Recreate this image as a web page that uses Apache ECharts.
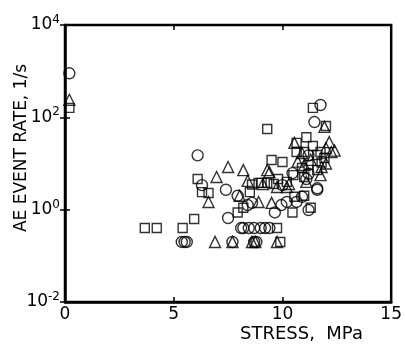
<!DOCTYPE html>
<html>
<head>
<meta charset="utf-8">
<script src="https://cdn.jsdelivr.net/npm/echarts@6.0.0/dist/echarts.min.js"></script>
<style>
  html, body { margin: 0; padding: 0; background: #fff; }
  #chart { width: 405px; height: 346px; }
</style>
</head>
<body>
<div id="chart"></div>
<script>
// stress (MPa) vs AE event rate (1/s)
var xTicks = [0, 5, 10, 15];
var yTickExp = [-2, 0, 2, 4];

var circlePts = [
  [0.2, 900], [6.1, 15], [6.3, 3.4], [7.4, 2.7], [7.94, 2.0], [8.4, 1.26],
  [7.5, 0.66], [11.75, 185], [11.47, 79], [11.6, 2.7], [11.2, 6.0],
  [10.46, 6.2], [11.2, 15], [8.6, 1.4], [9.95, 1.26], [10.2, 1.47],
  [10.9, 1.9], [9.65, 0.87], [11.2, 0.98], [10.65, 1.47], [11.6, 2.9],
  [10.0, 3.4], [11.1, 4.6],
  [8.1, 0.4], [8.2, 0.4], [8.45, 0.4], [8.7, 0.4], [9.0, 0.4], [9.2, 0.4], [9.4, 0.4],
  [5.37, 0.2], [5.5, 0.2], [5.6, 0.2], [7.7, 0.2], [8.7, 0.2], [8.8, 0.2]
];

var squarePts = [
  [0.2, 160], [3.67, 0.4], [4.22, 0.4], [5.41, 0.4], [5.94, 0.63],
  [6.1, 4.6], [6.3, 2.4], [6.6, 2.3], [8.5, 2.4], [8.6, 3.5], [8.9, 3.8],
  [8.2, 1.1], [7.94, 0.87], [11.4, 160], [12.0, 65], [9.3, 56], [11.1, 37],
  [10.65, 28], [11.4, 24], [10.65, 17.7], [11.0, 17.7], [11.75, 17.7],
  [11.6, 15.3], [11.93, 13.2], [9.5, 11.9], [10.0, 10.8], [9.04, 3.8],
  [9.3, 3.8], [10.55, 1.9], [11.0, 2.0], [10.46, 0.87], [11.3, 1.1],
  [9.75, 0.4], [9.9, 0.2], [10.9, 8.0], [11.2, 9.3], [11.6, 7.2],
  [10.5, 5.6], [11.0, 5.1], [9.8, 4.6], [10.2, 4.0], [9.6, 3.6], [11.8, 10.5]
];

var trianglePts = [
  [0.2, 240], [11.93, 62], [12.15, 29], [10.55, 28], [12.0, 21.7],
  [12.25, 17.7], [12.4, 19], [10.9, 16.9], [7.5, 8.4], [8.2, 7.2],
  [9.3, 7.2], [6.97, 5.1], [8.4, 4.2], [6.6, 1.47], [8.03, 2.0],
  [8.9, 1.47], [9.5, 1.4], [9.4, 6.5], [9.75, 3.1], [10.2, 3.1],
  [11.1, 4.0], [11.75, 5.6], [10.7, 11], [11.3, 12], [11.0, 9.3],
  [11.8, 8.4], [12.0, 10], [10.3, 3.6], [9.1, 3.6],
  [6.9, 0.2], [7.7, 0.2], [8.6, 0.2], [8.75, 0.2], [9.75, 0.2]
];

var chart = echarts.init(document.getElementById('chart'));

var hollow = { color: 'rgba(0,0,0,0)', borderColor: '#000', borderWidth: 1.4 };
var fontFam = 'DejaVu Sans';

var option = {
  animation: false,
  backgroundColor: '#fff',
  grid: {
    left: 65, top: 25, right: 13, bottom: 44,
    show: true, borderColor: '#000', borderWidth: 2.5
  },
  xAxis: [
    {
      type: 'value', min: 0, max: 15, interval: 5,
      axisLine: { lineStyle: { color: '#000', width: 2.5 } },
      axisTick: { inside: true, length: 5, lineStyle: { color: '#000', width: 1.5 } },
      splitLine: { show: false },
      axisLabel: {
        color: '#000', fontFamily: fontFam, fontSize: 17, margin: 4,
        formatter: function (v) { return xTicks.indexOf(v) >= 0 ? String(v) : ''; }
      }
    },
    {
      type: 'value', min: 0, max: 15, interval: 5, position: 'top',
      axisLine: { show: false },
      axisTick: { inside: true, length: 5, lineStyle: { color: '#000', width: 1.5 } },
      axisLabel: { show: false }, splitLine: { show: false }
    }
  ],
  yAxis: [
    {
      type: 'log', logBase: 100, min: 0.01, max: 10000,
      axisLine: { lineStyle: { color: '#000', width: 2.5 } },
      axisTick: { inside: true, length: 5, lineStyle: { color: '#000', width: 1.5 } },
      splitLine: { show: false },
      axisLabel: {
        margin: 5,
        formatter: function (v) {
          var e = Math.round(Math.log10(v));
          if (yTickExp.indexOf(e) < 0) return '';
          return '{b|10}{s|' + e + '}';
        },
        rich: {
          b: { color: '#000', fontFamily: fontFam, fontSize: 17 },
          s: { color: '#000', fontFamily: fontFam, fontSize: 12, verticalAlign: 'top', padding: [0, 0, 10, 0] }
        }
      }
    },
    {
      type: 'log', logBase: 100, min: 0.01, max: 10000, position: 'right',
      axisLine: { show: false },
      axisTick: { inside: true, length: 5, lineStyle: { color: '#000', width: 1.5 } },
      axisLabel: { show: false }, splitLine: { show: false }
    }
  ],
  graphic: [
    {
      type: 'text', left: 240, top: 325,
      style: { text: 'STRESS,  MPa', font: '18px "DejaVu Sans"', fill: '#000' }
    },
    {
      type: 'text', x: 22, y: 148, rotation: Math.PI / 2,
      style: {
        text: 'AE EVENT RATE, 1/s', font: '17px "DejaVu Sans"', fill: '#000',
        align: 'center', verticalAlign: 'middle'
      }
    }
  ],
  series: [
    { name: 'circle', type: 'scatter', symbol: 'circle', symbolSize: 11, itemStyle: hollow, data: circlePts },
    { name: 'square', type: 'scatter', symbol: 'rect', symbolSize: 9, itemStyle: hollow, data: squarePts },
    { name: 'triangle', type: 'scatter', symbol: 'triangle', symbolSize: 11, itemStyle: hollow, data: trianglePts }
  ]
};

chart.setOption(option);
</script>
</body>
</html>
